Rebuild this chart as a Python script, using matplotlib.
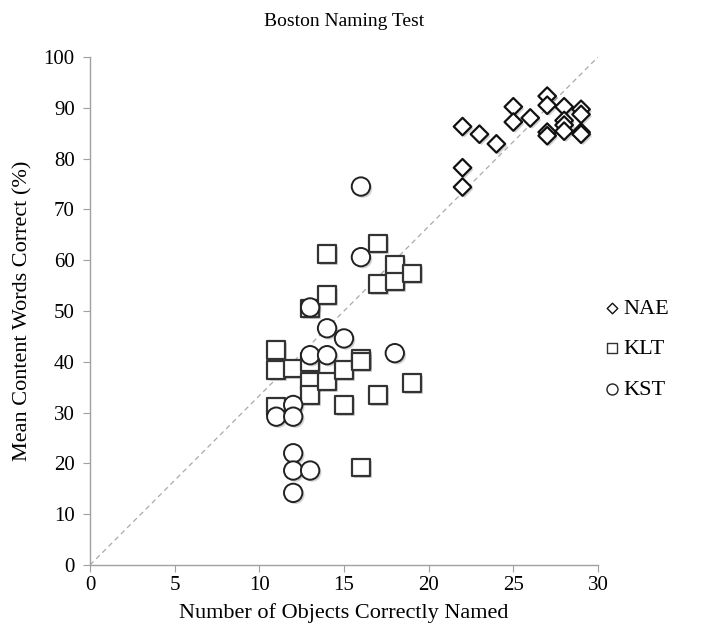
#!/usr/bin/env python3
# Boston Naming Test scatter: objects named vs content words correct

import matplotlib as mpl
mpl.use('Agg')
import matplotlib.pyplot as plt
import matplotlib.patheffects as pe

# NAE group (diamonds)
nae_x = [22, 23, 24, 22, 22, 25, 25, 26, 27, 27, 27, 27, 28, 28, 28, 28, 29, 29, 29, 29]
nae_y = [86.3, 84.8, 82.9, 78.2, 74.4, 90.2, 87.2, 88.0, 92.3, 90.5, 85.2, 84.5,
         90.2, 87.5, 86.6, 85.4, 89.7, 88.7, 85.2, 84.8]

# KLT group (squares)
klt_x = [11, 11, 11, 12, 13, 13, 13, 13, 14, 14, 14, 15, 15, 16, 16, 16,
         17, 17, 17, 18, 18, 19, 19]
klt_y = [42.3, 38.4, 31.2, 38.7, 50.5, 40.0, 36.1, 33.5, 61.2, 53.1, 36.1, 38.4, 31.5,
         40.6, 40.1, 19.2, 63.3, 55.3, 33.5, 59.0, 55.8, 57.4, 35.8]

# KST group (circles)
kst_x = [16, 16, 13, 14, 15, 18, 13, 14, 12, 11, 12, 12, 12, 13, 12]
kst_y = [74.5, 60.6, 50.7, 46.6, 44.6, 41.7, 41.3, 41.3, 31.5, 29.2, 29.2,
         22.0, 18.6, 18.6, 14.2]

plt.rcParams['font.family'] = ['Liberation Serif', 'DejaVu Serif']

fig = plt.figure(figsize=(7.05, 6.36), dpi=100)
ax = fig.add_axes([90 / 705, 71 / 636, 508 / 705, 508 / 636])

shadow = [pe.SimplePatchShadow(offset=(1.5, -1.5), alpha=0.25), pe.Normal()]

# identity-ish reference line
ax.plot([0, 30], [0, 100], linestyle=(0, (4, 3)), color='#aaaaaa', linewidth=0.9, zorder=1)

ax.scatter(nae_x, nae_y, marker='D', s=80, facecolor='white', edgecolor='#111111',
           linewidth=1.6, zorder=3, label='NAE', path_effects=shadow)
ax.scatter(klt_x, klt_y, marker='s', s=160, facecolor='white', edgecolor='#333333',
           linewidth=1.6, zorder=3, label='KLT', path_effects=shadow)
ax.scatter(kst_x, kst_y, marker='o', s=175, facecolor='white', edgecolor='#222222',
           linewidth=1.4, zorder=4, label='KST', path_effects=shadow)

ax.set_xlim(0, 30)
ax.set_ylim(0, 100)
ax.set_xticks(range(0, 31, 5))
ax.set_yticks(range(0, 101, 10))
for s in ['top', 'right']:
    ax.spines[s].set_visible(False)
for s in ['left', 'bottom']:
    ax.spines[s].set_color('#a0a0a0')
    ax.spines[s].set_linewidth(1.0)
ax.tick_params(direction='out', length=5, color='#a0a0a0', labelsize=15)
ax.tick_params(axis='x', pad=3)
ax.tick_params(axis='y', pad=6)

ax.set_xlabel('Number of Objects Correctly Named', fontsize=16, labelpad=6)
ax.set_ylabel('Mean Content Words Correct (%)', fontsize=16, labelpad=8)
fig.text(344 / 705, 1 - 22 / 636, 'Boston Naming Test', ha='center', va='center', fontsize=14)

leg = fig.legend(loc='center left', bbox_to_anchor=(590 / 705, 1 - 349 / 636), frameon=False,
                 fontsize=16, handletextpad=0.0, labelspacing=0.9, markerscale=0.6,
                 handlelength=1.0, borderpad=0)
for h in leg.legend_handles:
    h.set_path_effects([])
    h.set_linewidth(1.0)

fig.savefig('out.png', dpi=100)
